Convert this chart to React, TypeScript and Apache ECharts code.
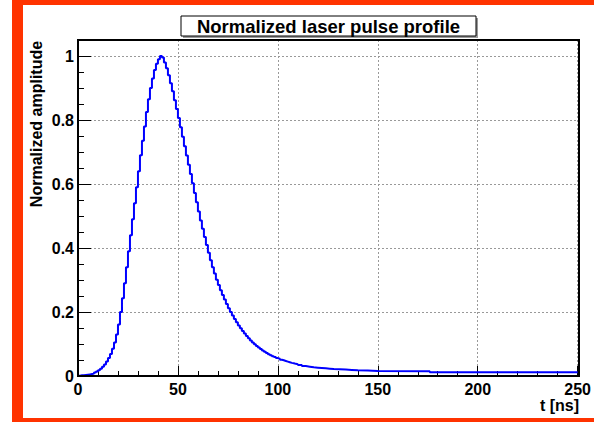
import React, { useEffect, useRef } from "react";
import * as echarts from "echarts";

const chartTitle = "Normalized laser pulse profile";
const xTitle = "t [ns]";
const yTitle = "Normalized amplitude";

// 1 ns bins from t = 0 to 110 ns
const coreBinWidth = 1;
const coreValues = [
  0.001, 0.002, 0.002, 0.003, 0.004, 0.005, 0.006, 0.008, 0.011, 0.014,
  0.018, 0.023, 0.029, 0.036, 0.045, 0.056, 0.069, 0.085, 0.105, 0.13,
  0.161, 0.2, 0.243, 0.29, 0.34, 0.39, 0.44, 0.49, 0.54, 0.59,
  0.64, 0.69, 0.735, 0.78, 0.825, 0.865, 0.9, 0.93, 0.956, 0.976,
  0.99, 1.0, 0.995, 0.98, 0.962, 0.94, 0.915, 0.89, 0.862, 0.834,
  0.806, 0.777, 0.748, 0.718, 0.689, 0.66, 0.631, 0.602, 0.572, 0.543,
  0.514, 0.486, 0.46, 0.434, 0.409, 0.385, 0.362, 0.34, 0.32, 0.301,
  0.284, 0.268, 0.253, 0.239, 0.225, 0.212, 0.2, 0.189, 0.178, 0.168,
  0.158, 0.149, 0.141, 0.133, 0.125, 0.118, 0.111, 0.105, 0.099, 0.094,
  0.089, 0.084, 0.08, 0.076, 0.072, 0.068, 0.065, 0.062, 0.059, 0.056,
  0.054, 0.051, 0.049, 0.047, 0.045, 0.043, 0.041, 0.04, 0.038, 0.037,
];

// tail segments: start of each segment (ns) and its level
const tailStarts = [110, 112, 114, 116, 118, 120, 122, 124, 126, 128, 131, 134, 137, 140, 145, 150, 176];
const tailValues = [0.034, 0.031, 0.029, 0.027, 0.026, 0.025, 0.024, 0.023, 0.022, 0.021, 0.02, 0.019, 0.018, 0.017, 0.016, 0.015, 0.012];

const xMin = 0;
const xMax = 250;
const xInterval = 50;
const yMin = 0;
const yMax = 1.05;
const yMajor = 0.2;
const yMinor = 0.05;

const W = 594;
const H = 422;
const FONT = "'Liberation Sans', Arial, Helvetica, sans-serif";

export default function App() {
  const ref = useRef<HTMLDivElement>(null);
  useEffect(() => {
    const chart = echarts.init(ref.current!, null, { renderer: "svg" });
    const data: [number, number][] = [];
    coreValues.forEach((v, i) => data.push([i * coreBinWidth, v]));
    tailStarts.forEach((s, i) => data.push([s, tailValues[i]]));
    data.push([xMax, tailValues[tailValues.length - 1]]);

    const grid = { left: 78, top: 40, right: 15, bottom: 46 };
    const pw = W - grid.left - grid.right;
    const ph = H - grid.top - grid.bottom;
    const labelStyle = { fontFamily: FONT, fontWeight: "bold", fontSize: 16, color: "#000" };
    const red = "#ff3300";

    chart.setOption({
      animation: false,
      backgroundColor: "#ffffff",
      grid: { ...grid },
      xAxis: {
        type: "value",
        min: xMin,
        max: xMax,
        interval: xInterval,
        axisLine: { show: false },
        axisTick: { show: true, inside: true, length: 10, lineStyle: { color: "#000", width: 1 } },
        minorTick: { show: true, splitNumber: 5, length: 5, lineStyle: { color: "#000", width: 1 } },
        splitLine: { show: true, lineStyle: { color: "#999", type: [2, 2], width: 1 } },
        axisLabel: { ...labelStyle, margin: 5 },
      },
      yAxis: [
        {
          type: "value",
          position: "left",
          min: yMin,
          max: yMax,
          interval: yMajor,
          axisLine: { show: false },
          axisTick: { show: true, inside: true, length: 13, lineStyle: { color: "#000", width: 1 } },
          splitLine: { show: true, lineStyle: { color: "#999", type: [2, 2], width: 1 } },
          axisLabel: {
            ...labelStyle,
            margin: 4,
            formatter: (v: number) => {
              const k = v / yMajor;
              if (Math.abs(k - Math.round(k)) > 1e-6) return "";
              return String(Math.round(v * 10) / 10);
            },
          },
        },
        {
          type: "value",
          position: "left",
          min: yMin,
          max: yMax,
          interval: yMinor,
          axisLine: { show: false },
          axisTick: { show: true, inside: true, length: 6, lineStyle: { color: "#000", width: 1 } },
          splitLine: { show: false },
          axisLabel: { show: false },
        },
      ],
      series: [
        {
          type: "line",
          step: "end",
          data,
          yAxisIndex: 0,
          symbol: "none",
          showSymbol: false,
          lineStyle: { color: "#0000ff", width: 2 },
          z: 5,
        },
      ],
      graphic: [
        {
          type: "rect",
          z: 100,
          shape: { x: grid.left, y: grid.top, width: pw, height: ph },
          style: { fill: "none", stroke: "#000", lineWidth: 2 },
        },
        { type: "rect", z: 100, shape: { x: 12, y: 0, width: 11, height: H }, style: { fill: red } },
        { type: "rect", z: 100, shape: { x: 12, y: 0, width: W - 12, height: 5 }, style: { fill: red } },
        { type: "rect", z: 100, shape: { x: 12, y: 418, width: W - 12, height: 4 }, style: { fill: red } },
        {
          type: "rect",
          z: 100,
          shape: { x: 183, y: 18, width: 295, height: 20 },
          style: { fill: "#999" },
        },
        {
          type: "rect",
          z: 101,
          shape: { x: 181, y: 16, width: 295, height: 20 },
          style: { fill: "#fff", stroke: "#000", lineWidth: 1 },
        },
        {
          type: "text",
          z: 102,
          x: 328.5,
          y: 26.5,
          style: {
            text: chartTitle,
            fontFamily: FONT,
            fontWeight: "bold",
            fontSize: 18.5,
            fill: "#000",
            align: "center",
            verticalAlign: "middle",
          },
        },
        {
          type: "text",
          z: 102,
          x: 36,
          y: 124,
          rotation: Math.PI / 2,
          style: {
            text: yTitle,
            fontFamily: FONT,
            fontWeight: "bold",
            fontSize: 16,
            fill: "#000",
            align: "center",
            verticalAlign: "middle",
          },
        },
        {
          type: "text",
          z: 102,
          x: W - grid.right,
          y: 405,
          style: {
            text: xTitle,
            fontFamily: FONT,
            fontWeight: "bold",
            fontSize: 16,
            fill: "#000",
            align: "right",
            verticalAlign: "middle",
          },
        },
      ],
    });
    return () => chart.dispose();
  }, []);
  return <div ref={ref} style={{ position: "fixed", left: 0, top: 0, width: W, height: H }} />;
}
